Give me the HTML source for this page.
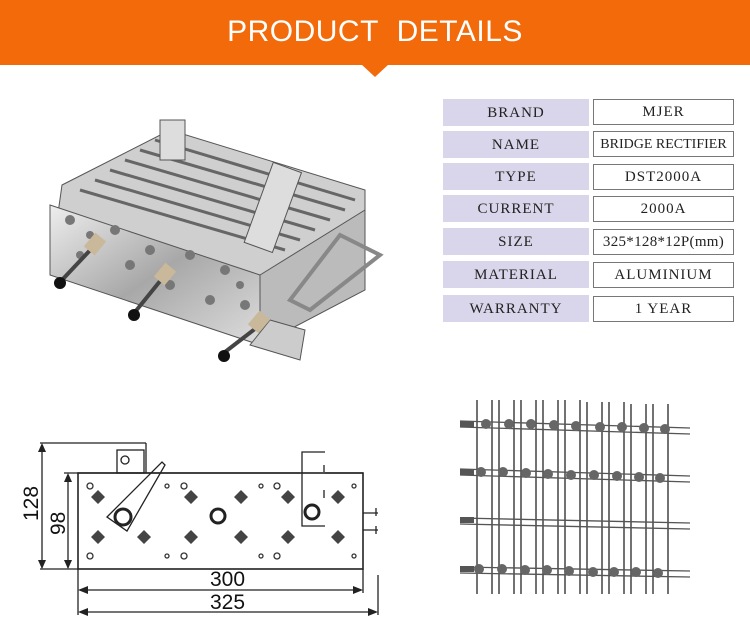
<!DOCTYPE html>
<html><head><meta charset="utf-8"><style>
body{margin:0;width:750px;height:627px;background:#fff;position:relative;overflow:hidden;font-family:"Liberation Sans",sans-serif}
.hdr{position:absolute;left:0;top:0;width:750px;height:65px;background:#f26a0a}
.tri{position:absolute;left:361px;top:64px;width:0;height:0;border-left:14px solid transparent;border-right:14px solid transparent;border-top:13px solid #f26a0a}
.ttl{position:absolute;left:0;top:15px;width:750px;text-align:center;color:#fff;font-size:30px;letter-spacing:0.5px}
.l,.r{position:absolute;height:27px;line-height:28px;text-align:center;font-family:"Liberation Serif",serif;font-size:15px;color:#222;letter-spacing:1px}
.l{left:443px;width:146px;background:#d9d5ea}
.r{left:593px;width:139px;height:24px;line-height:25px;border:1px solid #777;background:#fff}
</style></head><body>
<div class="hdr"></div><div class="tri"></div>
<div class="ttl">PRODUCT&nbsp; DETAILS</div>

<div class="l" style="top:99px">BRAND</div><div class="r" style="top:99px">MJER</div>
<div class="l" style="top:131px">NAME</div><div class="r" style="top:131px;letter-spacing:0;font-size:14px">BRIDGE RECTIFIER</div>
<div class="l" style="top:163px">TYPE</div><div class="r" style="top:164px">DST2000A</div>
<div class="l" style="top:195px">CURRENT</div><div class="r" style="top:196px">2000A</div>
<div class="l" style="top:228px">SIZE</div><div class="r" style="top:229px;letter-spacing:0.3px">325*128*12P(mm)</div>
<div class="l" style="top:261px">MATERIAL</div><div class="r" style="top:262px">ALUMINIUM</div>
<div class="l" style="top:295px">WARRANTY</div><div class="r" style="top:296px">1 YEAR</div>

<svg style="position:absolute;left:0;top:0" width="750" height="627">
<defs><linearGradient id="m" x1="0" y1="0" x2="1" y2="1"><stop offset="0" stop-color="#eee"/><stop offset="0.5" stop-color="#a8a8a8"/><stop offset="1" stop-color="#ddd"/></linearGradient></defs>
<g stroke="#555" stroke-width="1">
<polygon points="62,185 170,130 365,190 365,260 260,340 50,270" fill="#cfcfcf"/>
<polygon points="50,205 260,275 260,345 50,275" fill="url(#m)"/>
<polygon points="260,275 365,210 365,290 260,345" fill="#bbb"/>
<g fill="none" stroke="#666" stroke-width="3">
<line x1="95" y1="180" x2="300" y2="240"/><line x1="110" y1="170" x2="315" y2="230"/><line x1="125" y1="160" x2="330" y2="220"/><line x1="140" y1="150" x2="345" y2="210"/><line x1="155" y1="140" x2="355" y2="200"/><line x1="80" y1="190" x2="285" y2="250"/>
</g>
<rect x="258" y="165" width="30" height="85" fill="#ddd" transform="rotate(20 273 207)"/>
<rect x="160" y="120" width="25" height="40" fill="#ddd"/>
<polygon points="340,235 380,255 310,310 290,300" fill="none" stroke="#888" stroke-width="4"/>
<polygon points="270,320 305,330 300,360 250,345" fill="#ccc"/>
</g>
<g fill="#777">
<circle cx="70" cy="220" r="5"/><circle cx="90" cy="235" r="4"/><circle cx="115" cy="230" r="5"/><circle cx="150" cy="250" r="5"/><circle cx="190" cy="255" r="5"/><circle cx="225" cy="270" r="5"/><circle cx="80" cy="255" r="4"/><circle cx="130" cy="265" r="5"/><circle cx="170" cy="285" r="5"/><circle cx="210" cy="300" r="5"/><circle cx="245" cy="305" r="5"/><circle cx="240" cy="285" r="4"/>
</g>
<g stroke="#444" stroke-width="4"><line x1="95" y1="245" x2="62" y2="280"/><line x1="165" y1="275" x2="135" y2="312"/><line x1="260" y1="325" x2="225" y2="352"/></g>
<g fill="#111"><circle cx="60" cy="283" r="6"/><circle cx="134" cy="315" r="6"/><circle cx="224" cy="356" r="6"/></g>
<g fill="#c9b89a"><rect x="88" y="235" width="14" height="18" transform="rotate(40 95 244)"/><rect x="158" y="265" width="14" height="18" transform="rotate(40 165 274)"/><rect x="252" y="313" width="14" height="18" transform="rotate(40 259 322)"/></g>

<g stroke="#222" stroke-width="1.3" fill="none">
<line x1="40" y1="443" x2="146" y2="443"/><line x1="146" y1="443" x2="146" y2="473"/>
<line x1="42" y1="445" x2="42" y2="568"/>
<line x1="68" y1="476" x2="68" y2="568"/>
<line x1="64" y1="473" x2="300" y2="473"/><line x1="325" y1="473" x2="363" y2="473"/>
<rect x="78" y="473" width="285" height="96" stroke-width="1.6"/>
<line x1="40" y1="569" x2="78" y2="569"/>
<rect x="117" y="450" width="27" height="23"/><circle cx="125" cy="460" r="4"/>
<polygon points="107,517 162,462 165,465 127,531"/>
<circle cx="123" cy="517" r="8" stroke-width="3"/>
<circle cx="218" cy="516" r="7" stroke-width="3"/>
<path d="M325 452 L302 452 L302 526 L325 526 M324 465 L324 472 M324 490 L324 498"/>
<circle cx="312" cy="512" r="7" stroke-width="3"/>
<path d="M363 513 H378 M363 530 H378 M376 508 V516 M376 526 V534"/>
<line x1="78" y1="569" x2="78" y2="615"/><line x1="363" y1="569" x2="363" y2="593"/><line x1="378" y1="575" x2="378" y2="615"/>
<line x1="80" y1="590" x2="361" y2="590"/><line x1="80" y1="612" x2="376" y2="612"/>
</g>
<g fill="#222">
<polygon points="42,443 38,452 46,452"/><polygon points="42,569 38,560 46,560"/>
<polygon points="68,473 64,482 72,482"/><polygon points="68,569 64,560 72,560"/>
<polygon points="78,590 88,586 88,594"/><polygon points="363,590 353,586 353,594"/>
<polygon points="78,612 88,608 88,616"/><polygon points="378,612 368,608 368,616"/>
</g>
<g fill="none" stroke="#333" stroke-width="1.3">
<circle cx="90" cy="486" r="3"/><circle cx="90" cy="556" r="3"/><circle cx="167" cy="486" r="2"/><circle cx="184" cy="486" r="3"/><circle cx="167" cy="556" r="2"/><circle cx="184" cy="556" r="3"/><circle cx="261" cy="486" r="2"/><circle cx="277" cy="486" r="3"/><circle cx="261" cy="556" r="2"/><circle cx="277" cy="556" r="3"/><circle cx="354" cy="486" r="2"/><circle cx="354" cy="556" r="2"/>
</g>
<g fill="#444">
<path d="M98 490 l7 7 -7 7 -7 -7z M98 530 l7 7 -7 7 -7 -7z M144 530 l7 7 -7 7 -7 -7z M191 490 l7 7 -7 7 -7 -7z M191 530 l7 7 -7 7 -7 -7z M241 490 l7 7 -7 7 -7 -7z M241 530 l7 7 -7 7 -7 -7z M288 490 l7 7 -7 7 -7 -7z M288 530 l7 7 -7 7 -7 -7z M338 490 l7 7 -7 7 -7 -7z M338 530 l7 7 -7 7 -7 -7z"/>
</g>
<text x="0" y="0" font-size="21" fill="#111" transform="translate(38 521) rotate(-90)">128</text>
<text x="0" y="0" font-size="21" fill="#111" transform="translate(65 535) rotate(-90)">98</text>
<text x="210" y="586" font-size="21" fill="#111">300</text>
<text x="210" y="609" font-size="21" fill="#111">325</text>

<g stroke="#444" stroke-width="1.5">
<line x1="477" y1="400" x2="477" y2="594"/><line x1="492" y1="400" x2="492" y2="594"/>
<line x1="499" y1="400" x2="499" y2="594"/><line x1="514" y1="400" x2="514" y2="594"/>
<line x1="521" y1="400" x2="521" y2="594"/><line x1="536" y1="400" x2="536" y2="594"/>
<line x1="543" y1="400" x2="543" y2="594"/><line x1="558" y1="400" x2="558" y2="594"/>
<line x1="565" y1="400" x2="565" y2="594"/><line x1="580" y1="400" x2="580" y2="594"/>
<line x1="587" y1="402" x2="587" y2="594"/><line x1="602" y1="402" x2="602" y2="594"/>
<line x1="609" y1="402" x2="609" y2="594"/><line x1="624" y1="402" x2="624" y2="594"/>
<line x1="631" y1="404" x2="631" y2="594"/><line x1="646" y1="404" x2="646" y2="594"/>
<line x1="653" y1="404" x2="653" y2="594"/><line x1="668" y1="404" x2="668" y2="594"/>
</g>
<g stroke="#555" stroke-width="1.3" fill="none">
<line x1="460" y1="421" x2="690" y2="428"/><line x1="460" y1="427" x2="690" y2="434"/>
<line x1="460" y1="469" x2="690" y2="476"/><line x1="460" y1="475" x2="690" y2="482"/>
<line x1="460" y1="518" x2="690" y2="523"/><line x1="460" y1="524" x2="690" y2="529"/>
<line x1="460" y1="567" x2="690" y2="571"/><line x1="460" y1="573" x2="690" y2="577"/>
</g>
<g fill="#666">
<circle cx="486" cy="424" r="5"/><circle cx="509" cy="424" r="5"/><circle cx="531" cy="424" r="5"/><circle cx="554" cy="425" r="5"/><circle cx="576" cy="426" r="5"/><circle cx="600" cy="427" r="5"/><circle cx="622" cy="427" r="5"/><circle cx="644" cy="428" r="5"/><circle cx="665" cy="429" r="5"/>
<circle cx="481" cy="472" r="5"/><circle cx="503" cy="472" r="5"/><circle cx="526" cy="473" r="5"/><circle cx="548" cy="474" r="5"/><circle cx="571" cy="475" r="5"/><circle cx="594" cy="475" r="5"/><circle cx="617" cy="476" r="5"/><circle cx="639" cy="477" r="5"/><circle cx="660" cy="478" r="5"/>
<circle cx="479" cy="569" r="5"/><circle cx="502" cy="569" r="5"/><circle cx="525" cy="570" r="5"/><circle cx="547" cy="570" r="5"/><circle cx="569" cy="571" r="5"/><circle cx="593" cy="572" r="5"/><circle cx="614" cy="572" r="5"/><circle cx="636" cy="572" r="5"/><circle cx="658" cy="573" r="5"/>
</g>
<g fill="#555"><rect x="460" y="421" width="14" height="6"/><rect x="460" y="469" width="14" height="6"/><rect x="460" y="517" width="14" height="6"/><rect x="460" y="566" width="14" height="6"/></g>
</svg>
</body></html>
